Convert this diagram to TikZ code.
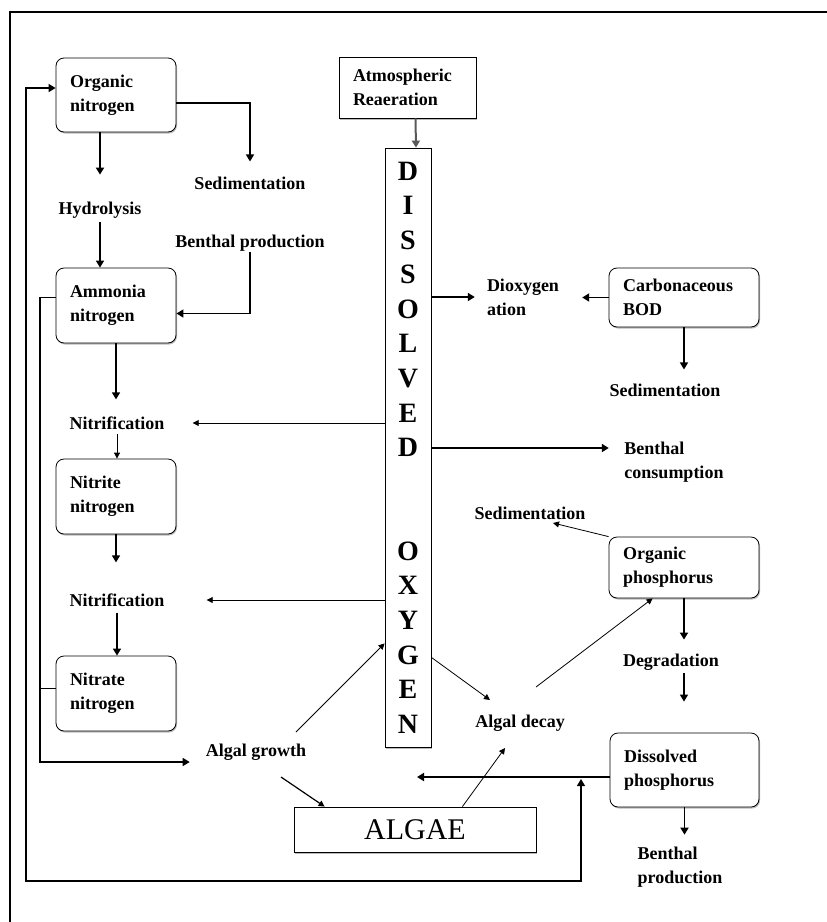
\documentclass[tikz,border=0pt]{standalone}
\usepackage{fontspec}
\setmainfont{Liberation Serif}
\usetikzlibrary{arrows.meta,shadows}

\begin{document}
\begin{tikzpicture}[
    x=1pt, y=-1pt,
    pool/.style={draw, fill=white, line width=0.8pt, rounded corners=8pt, align=left, text width=#1, inner xsep=14pt, minimum height=74pt, font=\fontsize{18}{24}\selectfont\bfseries, drop shadow={shadow xshift=1pt, shadow yshift=-1.5pt, opacity=0.55}},
    pool/.default=92pt,
    source/.style={draw, fill=white, line width=0.8pt, inner sep=0pt, drop shadow={shadow xshift=1pt, shadow yshift=-1.5pt, opacity=0.55}},
    column/.style={source, minimum width=46pt, minimum height=599pt, align=center, font=\fontsize{28}{34.56}\selectfont\bfseries},
    process/.style={inner sep=1pt, font=\fontsize{18}{24}\selectfont\bfseries},
    arrow/.style={-{Triangle[length=7pt, width=8pt]}, line width=1.4pt},
    light arrow/.style={-{Triangle[length=6pt, width=6pt]}, line width=0.8pt}
]
\useasboundingbox (0,0) rectangle (827,922);
\draw[line width=1.6pt] (10,922) -- (10,12) -- (827,12);

\node[pool] (orgN) at (116,95) {Organic\\nitrogen};
\node[pool, minimum height=75pt] (ammN) at (116,305.5) {Ammonia\\nitrogen};
\node[pool, minimum height=75pt] (nitriteN) at (116,496.5) {Nitrite\\nitrogen};
\node[pool, minimum height=75pt] (nitrateN) at (116,693.5) {Nitrate\\nitrogen};
\node[source, minimum width=137pt, minimum height=61pt, inner xsep=14pt, text width=109pt, align=left, font=\fontsize{18}{24}\selectfont\bfseries] (atmo) at (407.5,87.5) {Atmospheric\\Reaeration};
\node[column] (do) at (408,447.5) {D\\I\\S\\S\\O\\L\\V\\E\\D\\[69.12pt]O\\X\\Y\\G\\E\\N};
\node[pool=122pt, minimum height=59pt] (carb) at (684,297.5) {Carbonaceous\\BOD};
\node[pool=122pt, minimum height=61pt] (orgP) at (684,567.5) {Organic\\phosphorus};
\node[pool=121pt] (dissP) at (684.5,770) {Dissolved\\phosphorus};
\node[source, minimum width=242pt, minimum height=45pt, font=\fontsize{30}{36}\selectfont] (algae) at (415,829.5) {ALGAE};

\node[process] (sed1) at (250,183) {Sedimentation};
\node[process] (hydro) at (100,210) {Hydrolysis};
\node[process] (ben1) at (250,243) {Benthal production};
\node[process] (nitr1) at (117,423) {Nitrification};
\node[process] (nitr2) at (117,600) {Nitrification};
\node[process, align=left] (diox) at (523,297) {Dioxygen\\ation};
\node[process] (sed2) at (665,390) {Sedimentation};
\node[process, align=left] (bcons) at (674,462.5) {Benthal\\consumption};
\node[process] (sed3) at (530,513) {Sedimentation};
\node[process] (degr) at (671,662) {Degradation};
\node[process] (growth) at (256,752) {Algal growth};
\node[process] (decay) at (520,723) {Algal decay};
\node[process, align=left] (ben2) at (680,867) {Benthal\\production};

\coordinate (nbus) at (40,762);
\coordinate (fbl) at (26,881);
\coordinate (fbtip) at (581,779);
\coordinate (uptake) at (417,777);

\draw[arrow, shorten >=14pt] ([yshift=-8pt]orgN.east) -| (sed1.north);
\draw[arrow, line width=1.8pt, shorten >=26pt] (orgN.south -| hydro) -- (hydro.north);
\draw[arrow, shorten <=3pt] (hydro.south) -- (hydro.south |- ammN.north);
\draw[arrow] (ben1.south) |- ([yshift=-8pt]ammN.east);
\draw[arrow, shorten >=16pt] (ammN.south) -- (ammN.south |- nitr1.north);
\draw[light arrow, shorten >=27pt] (do.west |- nitr1) -- (nitr1.east);
\draw[light arrow, shorten <=3pt] (nitr1.south) -- (nitr1.south |- nitriteN.north);
\draw[arrow, shorten >=30pt] (nitriteN.south) -- (nitriteN.south |- nitr2.north);
\draw[light arrow, shorten >=41pt] (do.west |- nitr2) -- (nitr2.east);
\draw[arrow, shorten <=5pt] (nitr2.south) -- (nitr2.south |- nitrateN.north);
\draw[arrow, shorten >=15pt] ([yshift=8pt]ammN.west) -| (nbus) -- (nbus -| growth.west);
\draw[line width=1.2pt] ([yshift=5pt]nitrateN.west) -- ([yshift=5pt]nitrateN.west -| nbus);
\draw[arrow, {Triangle[length=7pt, width=8pt]}-{Triangle[length=7pt, width=8pt]}] (fbtip) |- (fbl) |- ([yshift=7pt]orgN.west);
\draw[arrow, line width=2.2pt] ([yshift=-7pt]dissP.west) -- (uptake);

\draw[arrow, draw=black!65, line width=2pt] ([xshift=8pt]atmo.south) -- ([xshift=8pt]do.north);
\draw[arrow, line width=1.8pt, shorten >=11pt] (do.east |- diox.west) -- (diox.west);
\draw[arrow, line width=1.8pt, shorten >=22pt] (carb.west) -- (carb.west -| diox.east);
\draw[arrow, shorten >=13pt] (carb.south) -- (carb.south |- sed2.north);
\draw[arrow, line width=1.8pt, shorten >=14.5pt] ([yshift=14.5pt]do.east |- bcons.west) -- ([yshift=14.5pt]bcons.west);
\draw[light arrow] (orgP.north west) -- ([xshift=23pt, yshift=-10pt]sed3.center);
\draw[arrow, line width=1.8pt, shorten >=13pt] (orgP.south) -- (orgP.south |- degr.north);
\draw[arrow, line width=1.2pt, shorten <=2pt, shorten >=31pt] (orgP.south |- degr.south) -- (orgP.south |- dissP.north);
\draw[arrow, line width=1.8pt, shorten >=11pt] (dissP.south) -- (dissP.south |- ben2.north);

\draw[light arrow] ([xshift=40pt, yshift=20pt]growth.center) -- ([yshift=104pt]do.south west);
\draw[light arrow, line width=1.2pt] ([xshift=25pt, yshift=-25pt]growth.center) -- ([xshift=31pt]algae.north west);
\draw[light arrow] ([yshift=90pt]do.south east) -- ([xshift=-30pt, yshift=23pt]decay.center);
\draw[light arrow] ([xshift=-74pt]algae.north east) -- ([xshift=-15pt, yshift=-25pt]decay.center);
\draw[light arrow] ([xshift=16pt, yshift=36pt]decay.center) -- ([xshift=44pt]orgP.south west);
\end{tikzpicture}
\end{document}
